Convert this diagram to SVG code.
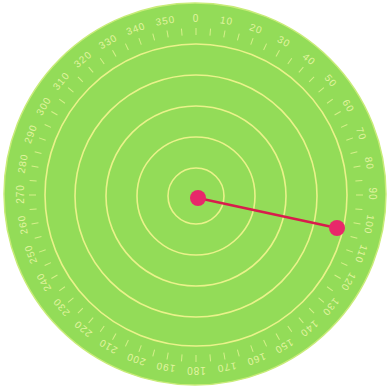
<svg xmlns="http://www.w3.org/2000/svg" xmlns:xlink="http://www.w3.org/1999/xlink" width="388" height="390" viewBox="0 0 388 390">
<style>
.ring{fill:none;stroke:#e9f28a;stroke-width:1.6}
.lbl{font-family:"Liberation Sans",Arial,sans-serif;font-size:10px;letter-spacing:1px;fill:#e2f4a0;text-anchor:middle}
.tk{stroke:#d6f08a;stroke-width:1}
</style>
<defs>
<g id="tick5"><line class="tk" x1="196" y1="28" x2="196" y2="35"/></g>
</defs>
<rect width="388" height="390" fill="#ffffff"/>
<g id="disk">
<circle cx="195" cy="194" r="191" fill="#93dc58" stroke="#c8ec78" stroke-width="1.5"/>
</g>
<g id="rings">
<circle class="ring" cx="196" cy="196" r="28"/>
<circle class="ring" cx="196" cy="196" r="59"/>
<circle class="ring" cx="196" cy="196" r="90"/>
<circle class="ring" cx="196" cy="196" r="121"/>
<circle class="ring" cx="196" cy="195" r="151"/>
</g>
<g id="ticks">
<use xlink:href="#tick5" transform="rotate(5 196 195)"/><use xlink:href="#tick5" transform="rotate(15 196 195)"/><use xlink:href="#tick5" transform="rotate(25 196 195)"/><use xlink:href="#tick5" transform="rotate(35 196 195)"/><use xlink:href="#tick5" transform="rotate(45 196 195)"/><use xlink:href="#tick5" transform="rotate(55 196 195)"/><use xlink:href="#tick5" transform="rotate(65 196 195)"/><use xlink:href="#tick5" transform="rotate(75 196 195)"/><use xlink:href="#tick5" transform="rotate(85 196 195)"/><use xlink:href="#tick5" transform="rotate(95 196 195)"/><use xlink:href="#tick5" transform="rotate(105 196 195)"/><use xlink:href="#tick5" transform="rotate(115 196 195)"/><use xlink:href="#tick5" transform="rotate(125 196 195)"/><use xlink:href="#tick5" transform="rotate(135 196 195)"/><use xlink:href="#tick5" transform="rotate(145 196 195)"/><use xlink:href="#tick5" transform="rotate(155 196 195)"/><use xlink:href="#tick5" transform="rotate(165 196 195)"/><use xlink:href="#tick5" transform="rotate(175 196 195)"/><use xlink:href="#tick5" transform="rotate(185 196 195)"/><use xlink:href="#tick5" transform="rotate(195 196 195)"/><use xlink:href="#tick5" transform="rotate(205 196 195)"/><use xlink:href="#tick5" transform="rotate(215 196 195)"/><use xlink:href="#tick5" transform="rotate(225 196 195)"/><use xlink:href="#tick5" transform="rotate(235 196 195)"/><use xlink:href="#tick5" transform="rotate(245 196 195)"/><use xlink:href="#tick5" transform="rotate(255 196 195)"/><use xlink:href="#tick5" transform="rotate(265 196 195)"/><use xlink:href="#tick5" transform="rotate(275 196 195)"/><use xlink:href="#tick5" transform="rotate(285 196 195)"/><use xlink:href="#tick5" transform="rotate(295 196 195)"/><use xlink:href="#tick5" transform="rotate(305 196 195)"/><use xlink:href="#tick5" transform="rotate(315 196 195)"/><use xlink:href="#tick5" transform="rotate(325 196 195)"/><use xlink:href="#tick5" transform="rotate(335 196 195)"/><use xlink:href="#tick5" transform="rotate(345 196 195)"/><use xlink:href="#tick5" transform="rotate(355 196 195)"/>
<use xlink:href="#tick5" transform="rotate(0 196 195)"/><use xlink:href="#tick5" transform="rotate(10 196 195)"/><use xlink:href="#tick5" transform="rotate(20 196 195)"/><use xlink:href="#tick5" transform="rotate(30 196 195)"/><use xlink:href="#tick5" transform="rotate(40 196 195)"/><use xlink:href="#tick5" transform="rotate(50 196 195)"/><use xlink:href="#tick5" transform="rotate(60 196 195)"/><use xlink:href="#tick5" transform="rotate(70 196 195)"/><use xlink:href="#tick5" transform="rotate(80 196 195)"/><use xlink:href="#tick5" transform="rotate(90 196 195)"/><use xlink:href="#tick5" transform="rotate(100 196 195)"/><use xlink:href="#tick5" transform="rotate(110 196 195)"/><use xlink:href="#tick5" transform="rotate(120 196 195)"/><use xlink:href="#tick5" transform="rotate(130 196 195)"/><use xlink:href="#tick5" transform="rotate(140 196 195)"/><use xlink:href="#tick5" transform="rotate(150 196 195)"/><use xlink:href="#tick5" transform="rotate(160 196 195)"/><use xlink:href="#tick5" transform="rotate(170 196 195)"/><use xlink:href="#tick5" transform="rotate(180 196 195)"/><use xlink:href="#tick5" transform="rotate(190 196 195)"/><use xlink:href="#tick5" transform="rotate(200 196 195)"/><use xlink:href="#tick5" transform="rotate(210 196 195)"/><use xlink:href="#tick5" transform="rotate(220 196 195)"/><use xlink:href="#tick5" transform="rotate(230 196 195)"/><use xlink:href="#tick5" transform="rotate(240 196 195)"/><use xlink:href="#tick5" transform="rotate(250 196 195)"/><use xlink:href="#tick5" transform="rotate(260 196 195)"/><use xlink:href="#tick5" transform="rotate(270 196 195)"/><use xlink:href="#tick5" transform="rotate(280 196 195)"/><use xlink:href="#tick5" transform="rotate(290 196 195)"/><use xlink:href="#tick5" transform="rotate(300 196 195)"/><use xlink:href="#tick5" transform="rotate(310 196 195)"/><use xlink:href="#tick5" transform="rotate(320 196 195)"/><use xlink:href="#tick5" transform="rotate(330 196 195)"/><use xlink:href="#tick5" transform="rotate(340 196 195)"/><use xlink:href="#tick5" transform="rotate(350 196 195)"/>
</g>
<g id="labels">
<text class="lbl" x="196" y="21.5" transform="rotate(0 196 194)">0</text>
<text class="lbl" x="196" y="21.5" transform="rotate(10 196 194)">10</text>
<text class="lbl" x="196" y="21.5" transform="rotate(20 196 194)">20</text>
<text class="lbl" x="196" y="21.5" transform="rotate(30 196 194)">30</text>
<text class="lbl" x="196" y="21.5" transform="rotate(40 196 194)">40</text>
<text class="lbl" x="196" y="21.5" transform="rotate(50 196 194)">50</text>
<text class="lbl" x="196" y="21.5" transform="rotate(60 196 194)">60</text>
<text class="lbl" x="196" y="21.5" transform="rotate(70 196 194)">70</text>
<text class="lbl" x="196" y="21.5" transform="rotate(80 196 194)">80</text>
<text class="lbl" x="196" y="21.5" transform="rotate(90 196 194)">90</text>
<text class="lbl" x="196" y="21.5" transform="rotate(100 196 194)">100</text>
<text class="lbl" x="196" y="21.5" transform="rotate(110 196 194)">110</text>
<text class="lbl" x="196" y="21.5" transform="rotate(120 196 194)">120</text>
<text class="lbl" x="196" y="21.5" transform="rotate(130 196 194)">130</text>
<text class="lbl" x="196" y="21.5" transform="rotate(140 196 194)">140</text>
<text class="lbl" x="196" y="21.5" transform="rotate(150 196 194)">150</text>
<text class="lbl" x="196" y="21.5" transform="rotate(160 196 194)">160</text>
<text class="lbl" x="196" y="21.5" transform="rotate(170 196 194)">170</text>
<text class="lbl" x="196" y="21.5" transform="rotate(180 196 194)">180</text>
<text class="lbl" x="196" y="21.5" transform="rotate(190 196 194)">190</text>
<text class="lbl" x="196" y="21.5" transform="rotate(200 196 194)">200</text>
<text class="lbl" x="196" y="21.5" transform="rotate(210 196 194)">210</text>
<text class="lbl" x="196" y="21.5" transform="rotate(220 196 194)">220</text>
<text class="lbl" x="196" y="21.5" transform="rotate(230 196 194)">230</text>
<text class="lbl" x="196" y="21.5" transform="rotate(240 196 194)">240</text>
<text class="lbl" x="196" y="21.5" transform="rotate(250 196 194)">250</text>
<text class="lbl" x="196" y="21.5" transform="rotate(260 196 194)">260</text>
<text class="lbl" x="196" y="21.5" transform="rotate(270 196 194)">270</text>
<text class="lbl" x="196" y="21.5" transform="rotate(280 196 194)">280</text>
<text class="lbl" x="196" y="21.5" transform="rotate(290 196 194)">290</text>
<text class="lbl" x="196" y="21.5" transform="rotate(300 196 194)">300</text>
<text class="lbl" x="196" y="21.5" transform="rotate(310 196 194)">310</text>
<text class="lbl" x="196" y="21.5" transform="rotate(320 196 194)">320</text>
<text class="lbl" x="196" y="21.5" transform="rotate(330 196 194)">330</text>
<text class="lbl" x="196" y="21.5" transform="rotate(340 196 194)">340</text>
<text class="lbl" x="196" y="21.5" transform="rotate(350 196 194)">350</text>
</g>
<g id="connectors">
<line x1="198" y1="198" x2="337" y2="228" stroke="#d81c4c" stroke-width="2.5"/>
</g>
<g id="center">
<circle cx="198" cy="198" r="8" fill="#e8286a"/>
</g>
<g id="endpoint">
<circle cx="337" cy="228" r="8" fill="#e8286a"/>
</g>
</svg>
